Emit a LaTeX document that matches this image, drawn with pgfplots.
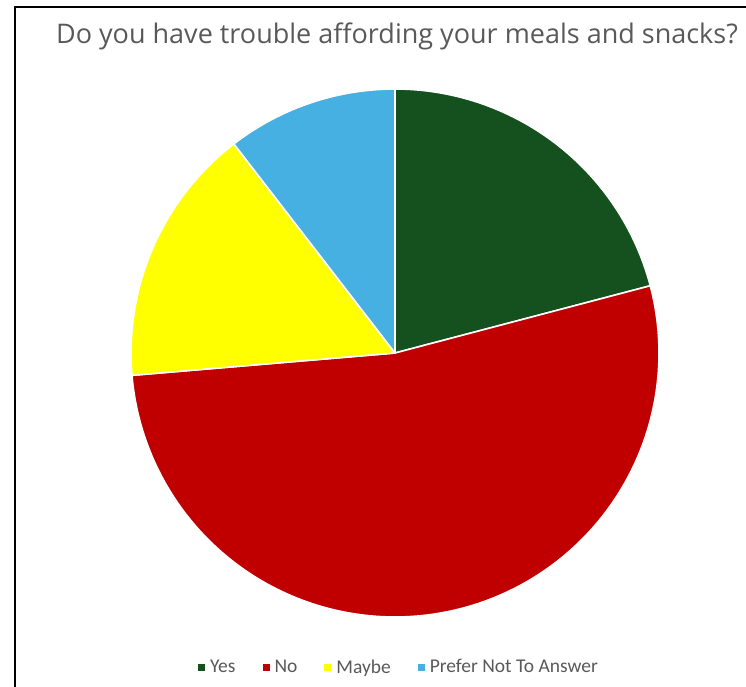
\documentclass[border=0pt]{standalone}
\usepackage{pgfplots}
\pgfplotsset{compat=1.18}
\usepackage{fontspec}
\setmainfont{Open Sans}
\newfontfamily\legfont{Carlito}
\definecolor{yesc}{RGB}{20,81,30}
\definecolor{noc}{RGB}{192,0,0}
\definecolor{maybec}{RGB}{255,255,0}
\definecolor{prefc}{RGB}{69,176,225}
\definecolor{titlec}{RGB}{89,89,89}
% shares of the answers (percent)
\def\vYes{20.9}
\def\vNo{52.75}
\def\vMaybe{15.9}
\def\vPref{10.45}
\pgfmathsetmacro\aA{3.6*\vYes}
\pgfmathsetmacro\aB{\aA+3.6*\vNo}
\pgfmathsetmacro\aC{\aB+3.6*\vMaybe}
\pgfmathsetmacro\aD{\aC+3.6*\vPref}
\def\cx{395}
\def\cy{353}
\def\rr{264}
\begin{document}
\begin{tikzpicture}
\begin{axis}[
  scale only axis, width=746pt, height=687pt,
  xmin=0, xmax=746, ymin=0, ymax=687, y dir=reverse,
  hide axis, clip=false,
  legend columns=4,
  legend style={at={(axis cs:399,667)}, anchor=center, draw=none, fill=none,
    font=\legfont\fontsize{19.5}{22}\selectfont\color{titlec},
    /tikz/every even column/.append style={column sep=25pt},
    /tikz/every odd column/.append style={column sep=3pt},
    inner sep=0pt},
  legend image code/.code={\fill[#1, draw=none] (0pt,-3.5pt) rectangle (7pt,3.5pt);},
  every axis plot/.append style={draw=white, line width=1.6pt, line join=round},
]
\addplot[fill=yesc, domain=0:\aA, samples=80, variable=\t]
  ({\cx+\rr*sin(\t)},{\cy-\rr*cos(\t)}) -- (axis cs:\cx,\cy) -- cycle;
\addlegendentry{Yes}
\addplot[fill=noc, domain=\aA:\aB, samples=160, variable=\t]
  ({\cx+\rr*sin(\t)},{\cy-\rr*cos(\t)}) -- (axis cs:\cx,\cy) -- cycle;
\addlegendentry{No}
\addplot[fill=maybec, domain=\aB:\aC, samples=60, variable=\t]
  ({\cx+\rr*sin(\t)},{\cy-\rr*cos(\t)}) -- (axis cs:\cx,\cy) -- cycle;
\addlegendentry{Maybe}
\addplot[fill=prefc, domain=\aC:\aD, samples=50, variable=\t]
  ({\cx+\rr*sin(\t)},{\cy-\rr*cos(\t)}) -- (axis cs:\cx,\cy) -- cycle;
\addlegendentry{Prefer Not To Answer}
\node[anchor=center, text=titlec, font=\fontsize{27}{32}\selectfont, inner sep=0pt]
  at (axis cs:397,36) {Do you have trouble affording your meals and snacks?};
\draw[black, line width=2.5pt] (axis cs:15,700) -- (axis cs:15,7) -- (axis cs:760,7);
\end{axis}
\pgfresetboundingbox
\path[use as bounding box] (0,0) rectangle (746pt,687pt);
\end{tikzpicture}
\end{document}
